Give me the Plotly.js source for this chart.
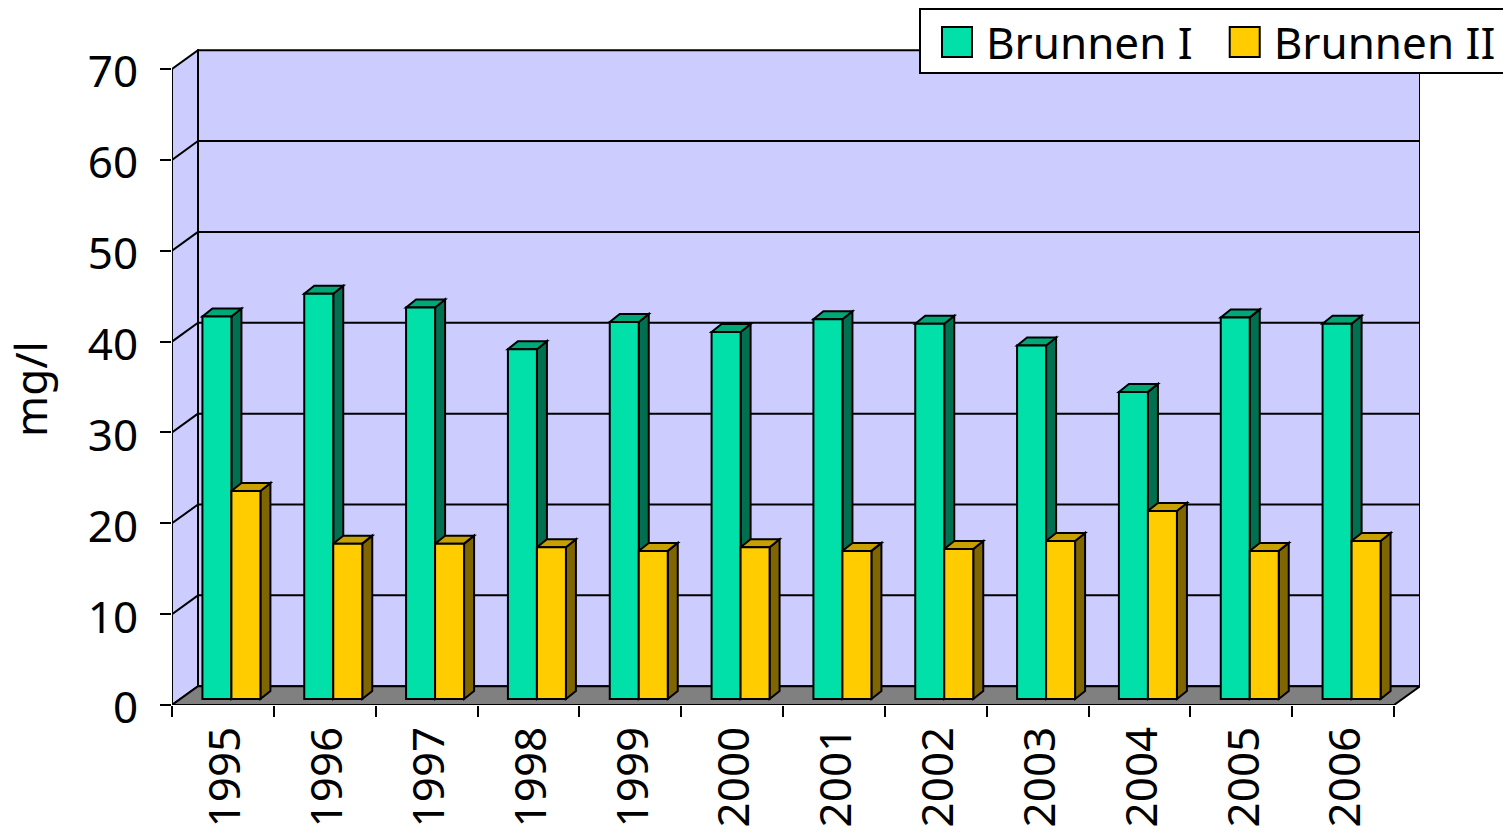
<!DOCTYPE html>
<html>
<head>
<meta charset="utf-8">
<script src="https://cdn.plot.ly/plotly-3.0.0.min.js"></script>
<style>html,body{margin:0;padding:0;background:#fff;overflow:hidden}#chart{width:1503px;height:833px}</style>
</head>
<body>
<div id="chart"></div>
<script>
const years = ['1995','1996','1997','1998','1999','2000','2001','2002','2003','2004','2005','2006'];
const brunnen1 = [42.1,44.6,43.1,38.5,41.5,40.4,41.8,41.3,38.9,33.8,42.0,41.3];
const brunnen2 = [22.9,17.1,17.1,16.7,16.3,16.7,16.3,16.5,17.4,20.7,16.3,17.4];
const yTicks = [0,10,20,30,40,50,60,70];

const FONT = '"Noto Sans", Tahoma, sans-serif';
const L=172, T=49, W=1248, H=656;
const xUnit = 1222/12, yUnit = 636/70;          // px per category, px per mg/l
const xMin = -0.5, xMax = xMin + W/xUnit, yMax = H/yUnit;
const px = v => v/xUnit, py = v => v/yUnit;

// depth offsets of the 3D frame and bars, in axis units
const wallDx = px(26), wallDy = py(18.8);
const barDx = px(10), barDy = py(8);
const barBase = py(6), barShift = px(8.5), barW = px(29);

const poly = (pts, fill, line) => ({
  type:'path', xref:'x', yref:'y', layer:'below',
  path:'M'+pts.map(p=>p[0].toFixed(4)+','+p[1].toFixed(4)).join('L')+'Z',
  fillcolor:fill, line:{color:'#000', width:line===undefined?2:line}
});
const seg = (x0,y0,x1,y1) => ({type:'line',xref:'x',yref:'y',layer:'below',x0,y0,x1,y1,line:{color:'#000',width:2}});

const xA = xMin, xB = xMin + years.length, yTop = yTicks[yTicks.length-1];
const shapes = [
  poly([[xA,0],[xA+wallDx,wallDy],[xA+wallDx,yTop+wallDy],[xA,yTop]],'#CCCCFF'),
  poly([[xA+wallDx,wallDy],[xB+wallDx,wallDy],[xB+wallDx,yTop+wallDy],[xA+wallDx,yTop+wallDy]],'#CCCCFF'),
  poly([[xA,0],[xB,0],[xB+wallDx,wallDy],[xA+wallDx,wallDy]],'#808080')
];
yTicks.slice(1,-1).forEach(v=>{
  shapes.push(seg(xA,v,xA+wallDx,v+wallDy));
  shapes.push(seg(xA+wallDx,v+wallDy,xB+wallDx,v+wallDy));
});
const off1 = barShift-barW, off2 = barShift;
function addFaces(vals, off, sideCol, topCol){
  vals.forEach((v,i)=>{
    const a=i+off, b=a+barW, y0=barBase, y1=barBase+v;
    shapes.push(poly([[b,y0],[b+barDx,y0+barDy],[b+barDx,y1+barDy],[b,y1]],sideCol));
    shapes.push(poly([[a,y1],[b,y1],[b+barDx,y1+barDy],[a+barDx,y1+barDy]],topCol));
  });
}
addFaces(brunnen1, off1, '#007050', '#00A878');
addFaces(brunnen2, off2, '#806600', '#C8A000');

const barTrace = (name, vals, off, col) => ({
  type:'bar', name, x:years, y:vals, base:barBase, width:barW, offset:off,
  marker:{color:col, line:{color:'#000',width:2}}, cliponaxis:false, hoverinfo:'x+y'
});
const data = [
  barTrace('Brunnen I', brunnen1, off1, '#00E0A8'),
  barTrace('Brunnen II', brunnen2, off2, '#FFCC00')
];
const layout = {
  width:1503, height:833, margin:{l:L,r:1503-L-W,t:T,b:833-T-H,pad:0},
  paper_bgcolor:'#fff', plot_bgcolor:'rgba(0,0,0,0)', barmode:'overlay',
  font:{family:FONT, color:'#000', size:44},
  xaxis:{type:'category', categoryorder:'array', categoryarray:years, range:[xMin,xMax],
    tickson:'boundaries', ticks:'outside', ticklen:11, tickwidth:2, tickcolor:'#000',
    tickangle:-90, tickfont:{family:FONT,size:44}, ticklabelstandoff:12, ticklabelshift:3,
    showgrid:false, showline:false, zeroline:false, fixedrange:true},
  yaxis:{range:[0,yMax], tickvals:yTicks, ticks:'outside', ticklen:11, tickwidth:2, tickcolor:'#000',
    tickfont:{family:FONT,size:44}, ticklabelstandoff:13, ticklabelshift:3,
    showgrid:false, showline:false, zeroline:false, fixedrange:true,
    title:{text:'mg/l', font:{family:FONT,size:44}, standoff:28}},
  shapes:shapes,
  showlegend:true,
  legend:{orientation:'h', x:0.4, xanchor:'left', y:1, yanchor:'top', bgcolor:'#fff',
    bordercolor:'#000', borderwidth:2, font:{family:FONT,size:44,color:'#000'},
    itemwidth:55,
    itemclick:false, itemdoubleclick:false, traceorder:'normal', tracegroupgap:0}
};
Plotly.newPlot('chart', data, layout, {displayModeBar:false}).then(gd=>{
  // Fit the legend to the reference box: place it above the plot, tall swatches, wider spacing
  const leg = gd.querySelector('.legend');
  leg.setAttribute('transform','translate(919,5)');
  gd.querySelectorAll('.legend .legendpoints path').forEach(p=>{
    p.setAttribute('d','M15,15H-15V-15H15Z');
    p.setAttribute('transform','translate(36,0)');
  });
  const bg = gd.querySelector('.legend .bg');
  bg.setAttribute('y', 4); bg.setAttribute('height', 64); bg.setAttribute('width', 600);
  const box = gd.querySelector('.legend .scrollbox');
  if (box) box.removeAttribute('clip-path');
  leg.removeAttribute('clip-path');
  const tr = gd.querySelectorAll('.legend .traces');
  if (tr[1]) {
    const m = /translate\(([-\d.]+)[ ,]*([-\d.]*)\)/.exec(tr[1].getAttribute('transform'));
    tr[1].setAttribute('transform','translate('+(parseFloat(m[1])+11)+','+(parseFloat(m[2])||0)+')');
  }
  const t = gd.querySelector('.ytitle');
  t.setAttribute('transform', 'translate(0,12) '+(t.getAttribute('transform')||''));
});
</script>
</body>
</html>
